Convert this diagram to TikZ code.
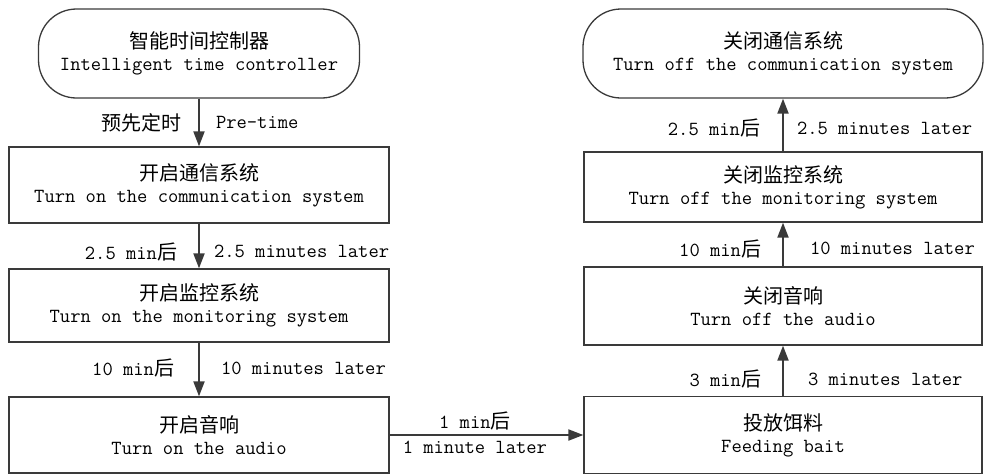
\documentclass[tikz,border=0pt]{standalone}
\usepackage{fontspec}
\newfontfamily\cjk{Noto Sans CJK SC}
\usetikzlibrary{positioning,arrows.meta}
\newcommand{\zh}[1]{{\cjk\fontsize{20}{22}\selectfont #1}}
\definecolor{lineg}{HTML}{3A3A3A}
\tikzset{
  box/.style={draw=lineg, line width=1.3pt, rectangle, align=center, inner sep=0pt,
    font=\ttfamily\fontsize{20}{22}\selectfont},
  term/.style={box, rounded corners=38pt, minimum height=89pt},
  flow/.style={draw=lineg, line width=2pt, -{Triangle[length=15pt,width=11pt]}},
  lbl/.style={inner sep=0pt, font=\ttfamily\fontsize{20}{22}\selectfont},
}
\begin{document}
\begin{tikzpicture}[x=1pt, y=-1pt]
\useasboundingbox (0,0) rectangle (984,475);
% left column: switching on
\node(start) [term, minimum width=321pt] at (199,53.5) {\zh{智能时间控制器}\\Intelligent time controller};
\node(commOn) [box, minimum width=380pt, minimum height=76pt, below of=start, node distance=131.5pt] {\zh{开启通信系统}\\Turn on the communication system};
\node(monOn) [box, minimum width=380pt, minimum height=73pt, below of=commOn, node distance=120.5pt] {\zh{开启监控系统}\\Turn on the monitoring system};
\node(audioOn) [box, minimum width=380pt, minimum height=76pt, below of=monOn, node distance=129.5pt] {\zh{开启音响}\\Turn on the audio};
% right column: switching off
\node(feed) [box, minimum width=398pt, minimum height=77pt, right of=audioOn, node distance=584pt] {\zh{投放饵料}\\Feeding bait};
\node(audioOff) [box, minimum width=398pt, minimum height=78pt, above of=feed, node distance=129pt] {\zh{关闭音响}\\Turn off the audio};
\node(monOff) [box, minimum width=398pt, minimum height=70pt, above of=audioOff, node distance=119pt] {\zh{关闭监控系统}\\Turn off the monitoring system};
\node(commOff) [term, minimum width=400pt, above of=monOff, node distance=133.5pt] {\zh{关闭通信系统}\\Turn off the communication system};
% connectors
\draw[flow] (start) -- (commOn) node[lbl, midway, left=17pt] {\zh{预先定时}} node[lbl, midway, right=16pt] {Pre-time};
\draw[flow] (commOn) -- (monOn) node[lbl, pos=0.63, left=21pt] {2.5 min\zh{后}} node[lbl, pos=0.63, right=14pt] {2.5 minutes later};
\draw[flow] (monOn) -- (audioOn) node[lbl, pos=0.47, left=24pt] {10 min\zh{后}} node[lbl, pos=0.47, right=21pt] {10 minutes later};
\draw[flow] (audioOn) -- (feed) node[lbl, pos=0.44, above=4pt] {1 min\zh{后}} node[lbl, pos=0.44, below=5pt] {1 minute later};
\draw[flow] (feed) -- (audioOff) node[lbl, pos=0.33, left=21pt] {3 min\zh{后}} node[lbl, pos=0.33, right=24pt] {3 minutes later};
\draw[flow] (audioOff) -- (monOff) node[lbl, pos=0.4, left=21pt] {10 min\zh{后}} node[lbl, pos=0.4, right=26pt] {10 minutes later};
\draw[flow] (monOff) -- (commOff) node[lbl, pos=0.44, left=22pt] {2.5 min\zh{后}} node[lbl, pos=0.44, right=13pt] {2.5 minutes later};
\end{tikzpicture}
\end{document}
